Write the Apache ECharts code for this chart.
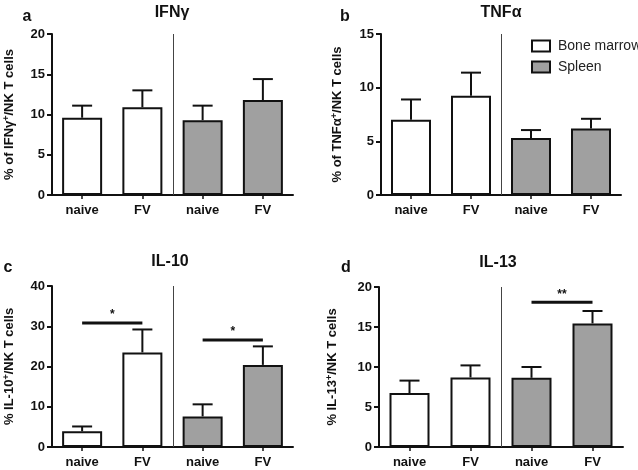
<!DOCTYPE html>
<html>
<head>
<meta charset="utf-8">
<script src="https://cdn.jsdelivr.net/npm/echarts@6/dist/echarts.min.js"></script>
<style>html,body{margin:0;padding:0;background:#fff;}#c{width:638px;height:470px;}</style>
</head>
<body>
<div id="c"></div>
<script>
// ---- data ----
var categories = ['naive', 'FV', 'naive', 'FV'];
var groups = ['Bone marrow', 'Spleen'];
var panelTitles = ['IFNγ', 'TNFα', 'IL-10', 'IL-13'];
var panelLetters = ['a', 'b', 'c', 'd'];
var yNames = ['% of IFNγ{s|+}/NK T cells', '% of TNFα{s|+}/NK T cells', '% IL-10{s|+}/NK T cells', '% IL-13{s|+}/NK T cells'];
var yMax = [20, 15, 40, 20];
var yInterval = [5, 5, 10, 5];

var ifnMean = [9.6, 10.9, 9.3, 11.8];
var ifnSem  = [1.5, 2.1, 1.8, 2.6];
var tnfMean = [7.0, 9.25, 5.3, 6.2];
var tnfSem  = [1.9, 2.15, 0.75, 0.9];
var il10Mean = [3.9, 23.5, 7.6, 20.4];
var il10Sem  = [1.2, 5.7, 3.0, 4.6];
var il13Mean = [6.75, 8.7, 8.65, 15.45];
var il13Sem  = [1.55, 1.5, 1.35, 1.55];

// significance: [fromIndex, toIndex, yValue, label]
var sigA = [];
var sigB = [];
var sigC = [[0, 1, 30.8, '*'], [2, 3, 26.6, '*']];
var sigD = [[2, 3, 18.1, '**']];

var means = [ifnMean, tnfMean, il10Mean, il13Mean];
var sems = [ifnSem, tnfSem, il10Sem, il13Sem];
var sigs = [sigA, sigB, sigC, sigD];

// ---- layout ----
var grids = [
  {left: 52, top: 34, width: 241, height: 161},
  {left: 381, top: 34, width: 240, height: 161},
  {left: 52, top: 286, width: 241, height: 161},
  {left: 379, top: 287, width: 244, height: 160}
];
var nameGaps = [35, 36, 35, 39];
var titlePos = [[172, 13], [501, 13], [170, 262], [498, 263]];
var letterPos = [[27, 17], [345, 17], [8, 268], [346, 268]];

var FONT = '"Liberation Sans", Arial, sans-serif';
var DARK = '#111';
var GRAY = '#a0a0a0';

var xAxes = [], yAxes = [], series = [], graphics = [];

for (var p = 0; p < 4; p++) {
  xAxes.push({
    type: 'category', gridIndex: p, data: categories,
    axisLine: {lineStyle: {color: DARK, width: 2}},
    axisTick: {show: true, alignWithLabel: true, length: 4, lineStyle: {color: DARK, width: 1.5}},
    axisLabel: {color: DARK, fontWeight: 'bold', fontSize: 13, fontFamily: FONT, margin: 9}
  });
  yAxes.push({
    type: 'value', gridIndex: p, min: 0, max: yMax[p], interval: yInterval[p],
    splitLine: {show: false},
    axisLine: {show: true, lineStyle: {color: DARK, width: 2}},
    axisTick: {show: true, length: 5, lineStyle: {color: DARK, width: 2}},
    axisLabel: {color: DARK, fontWeight: 'bold', fontSize: 13, fontFamily: FONT, margin: 7},
    name: yNames[p], nameLocation: 'middle', nameRotate: 90, nameGap: nameGaps[p],
    nameTextStyle: {color: DARK, fontWeight: 'bold', fontSize: 13, fontFamily: FONT,
      rich: {s: {fontSize: 9, fontWeight: 'bold', fontFamily: FONT, color: DARK, verticalAlign: 'top', padding: [0, 0, 6, 0]}}}
  });
  var m = means[p], s = sems[p];
  series.push({
    name: groups[0], type: 'bar', xAxisIndex: p, yAxisIndex: p,
    data: [m[0], m[1], null, null], barWidth: 40, barGap: '-100%',
    itemStyle: {color: '#fff', borderColor: DARK, borderWidth: 2}, z: 2
  });
  series.push({
    name: groups[1], type: 'bar', xAxisIndex: p, yAxisIndex: p,
    data: [null, null, m[2], m[3]], barWidth: 40, barGap: '-100%',
    itemStyle: {color: GRAY, borderColor: DARK, borderWidth: 2}, z: 2
  });
  // error bars (upper only)
  var errData = m.map(function (v, i) { return [i, v, v + s[i]]; });
  series.push({
    type: 'custom', xAxisIndex: p, yAxisIndex: p, z: 3, silent: true,
    data: errData,
    renderItem: function (params, api) {
      var lo = api.coord([api.value(0), api.value(1)]);
      var hi = api.coord([api.value(0), api.value(2)]);
      var half = 10;
      return {type: 'group', children: [
        {type: 'line', shape: {x1: lo[0], y1: lo[1], x2: hi[0], y2: hi[1]}, style: {stroke: DARK, lineWidth: 2}},
        {type: 'line', shape: {x1: hi[0] - half, y1: hi[1], x2: hi[0] + half, y2: hi[1]}, style: {stroke: DARK, lineWidth: 2}}
      ]};
    }
  });
  // divider between groups
  series.push({
    type: 'custom', xAxisIndex: p, yAxisIndex: p, z: 3, silent: true,
    data: [[1, 2]],
    renderItem: function (params, api) {
      var a = api.coord([api.value(0), 0]);
      var b = api.coord([api.value(1), 0]);
      var x = Math.round((a[0] + b[0]) / 2) + 0.5;
      var cs = params.coordSys;
      return {type: 'line', shape: {x1: x, y1: cs.y, x2: x, y2: cs.y + cs.height}, style: {stroke: '#444', lineWidth: 1}};
    }
  });
  if (sigs[p].length) {
    series.push({
      type: 'custom', xAxisIndex: p, yAxisIndex: p, z: 4, silent: true,
      data: sigs[p],
      renderItem: function (params, api) {
        var a = api.coord([api.value(0), api.value(2)]);
        var b = api.coord([api.value(1), api.value(2)]);
        return {type: 'group', children: [
          {type: 'line', shape: {x1: a[0], y1: a[1], x2: b[0], y2: b[1]}, style: {stroke: DARK, lineWidth: 3}},
          {type: 'text', x: (a[0] + b[0]) / 2, y: a[1] - 2, style: {text: api.value(3), fill: DARK, font: 'bold 12px ' + FONT, textAlign: 'center', textVerticalAlign: 'bottom'}}
        ]};
      }
    });
  }
  graphics.push({type: 'text', x: titlePos[p][0], y: titlePos[p][1],
    style: {text: panelTitles[p], fill: DARK, font: 'bold 16px ' + FONT, textAlign: 'center', textVerticalAlign: 'middle'}});
  graphics.push({type: 'text', x: letterPos[p][0], y: letterPos[p][1],
    style: {text: panelLetters[p], fill: DARK, font: 'bold 16px ' + FONT, textAlign: 'center', textVerticalAlign: 'middle'}});
}

var chart = echarts.init(document.getElementById('c'), null, {renderer: 'canvas'});
chart.setOption({
  backgroundColor: '#fff',
  animation: false,
  grid: grids,
  xAxis: xAxes,
  yAxis: yAxes,
  series: series,
  legend: {
    data: groups, orient: 'vertical', left: 531, top: 39, padding: 0, itemWidth: 18, itemHeight: 11, itemGap: 7,
    icon: 'rect', textStyle: {color: '#222', fontSize: 14, fontFamily: FONT, padding: [0, 0, 0, 3]}, selectedMode: false
  },
  graphic: graphics
});
</script>
</body>
</html>
